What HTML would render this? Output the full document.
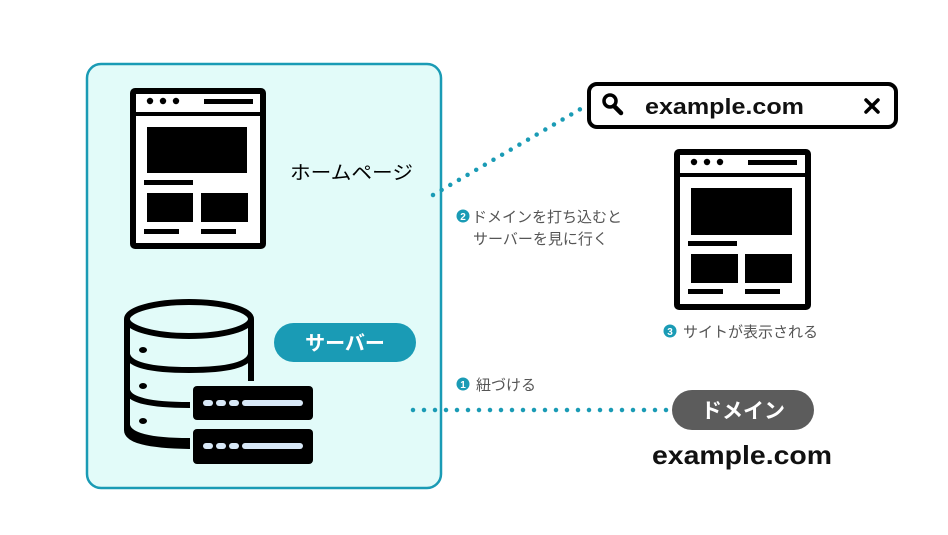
<!DOCTYPE html>
<html><head><meta charset="utf-8"><style>
html,body{margin:0;padding:0;background:#fff;}
svg{display:block;font-family:"Liberation Sans","Noto Sans CJK JP",sans-serif;}
</style></head><body>
<svg width="948" height="535" viewBox="0 0 948 535" xmlns="http://www.w3.org/2000/svg">
<rect x="0" y="0" width="948" height="535" fill="#fff"/>
<rect x="87" y="64" width="354" height="424" rx="14" fill="#e2fbf9" stroke="#1a9bb5" stroke-width="2.5"/>

<g>
<rect x="133" y="91" width="130" height="155" fill="#fff" stroke="#000" stroke-width="6" rx="2"/>
<line x1="133" y1="114" x2="263" y2="114" stroke="#000" stroke-width="4"/>
<circle cx="150" cy="101" r="3.2"/><circle cx="163" cy="101" r="3.2"/><circle cx="176" cy="101" r="3.2"/>
<rect x="204" y="99" width="49" height="5"/>
<rect x="147" y="127" width="100" height="46"/>
<rect x="144" y="180" width="49" height="5"/>
<rect x="147" y="193" width="46" height="29"/>
<rect x="201" y="193" width="47" height="29"/>
<rect x="144" y="229" width="35" height="5"/>
<rect x="201" y="229" width="35" height="5"/>
</g>
<text x="290" y="179" font-size="19" fill="#000" textLength="123" lengthAdjust="spacingAndGlyphs">ホームページ</text>

<g fill="none" stroke="#000" stroke-width="6">
<ellipse cx="189" cy="319" rx="62" ry="17"/>
<path d="M127 319 V430 Q127 445 189 446 H190"/>
<path d="M251 319 V381"/>
<path d="M127 354 Q130 370 189 370 Q248 370 251 354"/>
<path d="M127 390 Q130 405 189 405 H190"/>
<path d="M127 425 Q130 441 189 441 H190"/>
</g>
<ellipse cx="143" cy="350" rx="4" ry="3"/>
<ellipse cx="143" cy="386" rx="4" ry="3"/>
<ellipse cx="143" cy="421" rx="4" ry="3"/>
<rect x="193" y="386" width="120" height="34" rx="4"/>
<rect x="193" y="429" width="120" height="35" rx="4"/>
<g fill="#d8e8f7">
<rect x="203" y="400" width="10" height="6" rx="3"/><rect x="216" y="400" width="10" height="6" rx="3"/><rect x="229" y="400" width="10" height="6" rx="3"/><rect x="242" y="400" width="61" height="6" rx="3"/>
<rect x="203" y="443" width="10" height="6" rx="3"/><rect x="216" y="443" width="10" height="6" rx="3"/><rect x="229" y="443" width="10" height="6" rx="3"/><rect x="242" y="443" width="61" height="6" rx="3"/>
</g>
<rect x="274" y="323" width="142" height="39" rx="19.5" fill="#1a9bb5"/>
<text x="345" y="350" font-size="20" font-weight="bold" fill="#fff" text-anchor="middle">サーバー</text>

<line x1="413" y1="410" x2="670" y2="410" stroke="#1a9bb5" stroke-width="4.5" stroke-linecap="round" stroke-dasharray="0 11"/>
<line x1="433" y1="195" x2="584" y2="107" stroke="#1a9bb5" stroke-width="4.5" stroke-linecap="round" stroke-dasharray="0 10"/>

<rect x="589" y="84" width="307" height="43" rx="8" fill="#fff" stroke="#000" stroke-width="4"/>
<circle cx="610" cy="101" r="6" fill="none" stroke="#000" stroke-width="3.5"/>
<line x1="614" y1="106" x2="621" y2="113" stroke="#000" stroke-width="4.5" stroke-linecap="round"/>
<text x="645" y="114" font-size="22" font-weight="bold" fill="#111" textLength="159" lengthAdjust="spacingAndGlyphs">example.com</text>
<path d="M866 100 L878 112 M878 100 L866 112" stroke="#000" stroke-width="3.5" stroke-linecap="round"/>

<g>
<rect x="677" y="152" width="131" height="155" fill="#fff" stroke="#000" stroke-width="6" rx="2"/>
<line x1="677" y1="175" x2="808" y2="175" stroke="#000" stroke-width="4"/>
<circle cx="694" cy="162" r="3.2"/><circle cx="707" cy="162" r="3.2"/><circle cx="720" cy="162" r="3.2"/>
<rect x="748" y="160" width="49" height="5"/>
<rect x="691" y="188" width="101" height="47"/>
<rect x="688" y="241" width="49" height="5"/>
<rect x="691" y="254" width="47" height="29"/>
<rect x="745" y="254" width="47" height="29"/>
<rect x="688" y="289" width="35" height="5"/>
<rect x="745" y="289" width="35" height="5"/>
</g>

<circle cx="463" cy="216" r="6.5" fill="#1a9bb5"/><text x="463" y="220" font-size="10" font-weight="bold" fill="#fff" text-anchor="middle">2</text>
<text x="472" y="222" font-size="15" fill="#555">ドメインを打ち込むと</text>
<text x="473" y="244" font-size="15" fill="#555">サーバーを見に行く</text>
<circle cx="670" cy="331" r="6.5" fill="#1a9bb5"/><text x="670" y="335" font-size="10" font-weight="bold" fill="#fff" text-anchor="middle">3</text>
<text x="683" y="337" font-size="15" fill="#555">サイトが表示される</text>
<circle cx="463" cy="384" r="6.5" fill="#1a9bb5"/><text x="463" y="388" font-size="10" font-weight="bold" fill="#fff" text-anchor="middle">1</text>
<text x="476" y="390" font-size="15" fill="#555">紐づける</text>

<rect x="672" y="390" width="142" height="40" rx="20" fill="#5c5c5c"/>
<text x="743" y="418" font-size="21" font-weight="bold" fill="#fff" text-anchor="middle">ドメイン</text>
<text x="652" y="464" font-size="26" font-weight="bold" fill="#111" textLength="180" lengthAdjust="spacingAndGlyphs">example.com</text>
</svg>
</body></html>
